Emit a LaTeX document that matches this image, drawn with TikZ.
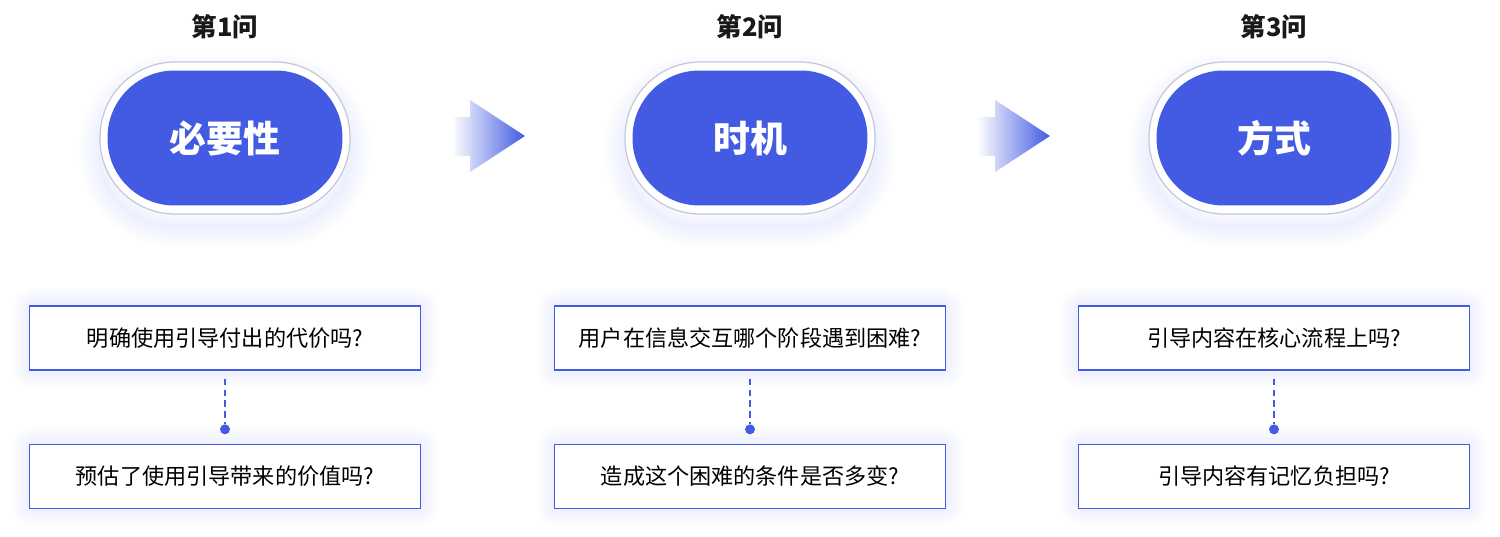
\documentclass[tikz,border=0pt]{standalone}
\usepackage{fontspec}
\setmainfont{Noto Sans CJK SC}
\usetikzlibrary{positioning}
\usetikzlibrary{backgrounds}

\definecolor{guideblue}{RGB}{66,91,226}
\definecolor{pillrim}{RGB}{198,200,216}
\definecolor{glowblue}{RGB}{110,130,240}

\begin{document}
\begin{tikzpicture} [
          x=0.02cm, y=-0.02cm,
          title/.style = {font=\bfseries\fontsize{14.5}{16}\selectfont, text=black!90},
          rim/.style = {draw=pillrim, line width=0.7pt, fill=white, rounded corners=1.5cm,
            minimum width=5cm, minimum height=3.04cm},
          pill/.style = {fill=guideblue, text=white, rounded corners=1.34cm,
            minimum width=4.7cm, minimum height=2.7cm, font=\bfseries\fontsize{21}{24}\selectfont},
          ask/.style = {draw=guideblue, line width=0.8pt, fill=white,
            minimum width=7.82cm, minimum height=1.28cm, font=\fontsize{12.6}{14}\selectfont},
          dot/.style = {circle, fill=guideblue, inner sep=0pt, minimum size=0.2cm},
          link/.style = {draw=guideblue, line width=0.8pt, dash pattern=on 3.6pt off 2.6pt}
          ]
          \useasboundingbox (0,0) rectangle (1500,537);

          % three questions, one per column
          \foreach \x/\n/\head/\qa/\qb in {
              225/1/必要性/明确使用引导付出的代价吗?/预估了使用引导带来的价值吗?,
              750/2/时机/用户在信息交互哪个阶段遇到困难?/造成这个困难的条件是否多变?,
              1274/3/方式/引导内容在核心流程上吗?/引导内容有记忆负担吗?} {
            \node[rim] (r\n) at (\x,138) {};
            \node[pill] (p\n) at (r\n) {\head};
            \node[title] (t\n) at (\x,27) {第\n 问};
            \node[ask] (q\n a) at (\x,338) {\qa};
            \node[ask, below=1.46cm of q\n a] (q\n b) {\qb};
            \node[dot, above=0.18cm of q\n b] (d\n) {};
            \draw[link] ([yshift=-0.16cm]q\n a.south) -- (d\n);
          }

          % soft glow under boxes and pills
          \begin{scope}[on background layer]
            \foreach \b in {q1a,q1b,q2a,q2b,q3a,q3b}
              \foreach \w in {3,7,11,15,19}
                \draw[glowblue, line width=\w pt, opacity=0.022, rounded corners=3pt]
                  (\b.south west) rectangle (\b.north east);
            \foreach \b in {r1,r2,r3}
              \foreach \w in {3,7,11,15,19,23}
                \draw[glowblue, line width=\w pt, opacity=0.02, rounded corners=1.5cm]
                  ([yshift=-7pt]\b.south west) rectangle ([yshift=-7pt]\b.north east);
          \end{scope}

          % arrows between columns
          \foreach \a in {452,977}
            \shade[left color=white, right color=guideblue]
              (\a,117) -- (\a+18,117) -- (\a+18,100) -- (\a+73,136)
              -- (\a+18,172) -- (\a+18,156) -- (\a,156) -- cycle;
        \end{tikzpicture}
\end{document}
